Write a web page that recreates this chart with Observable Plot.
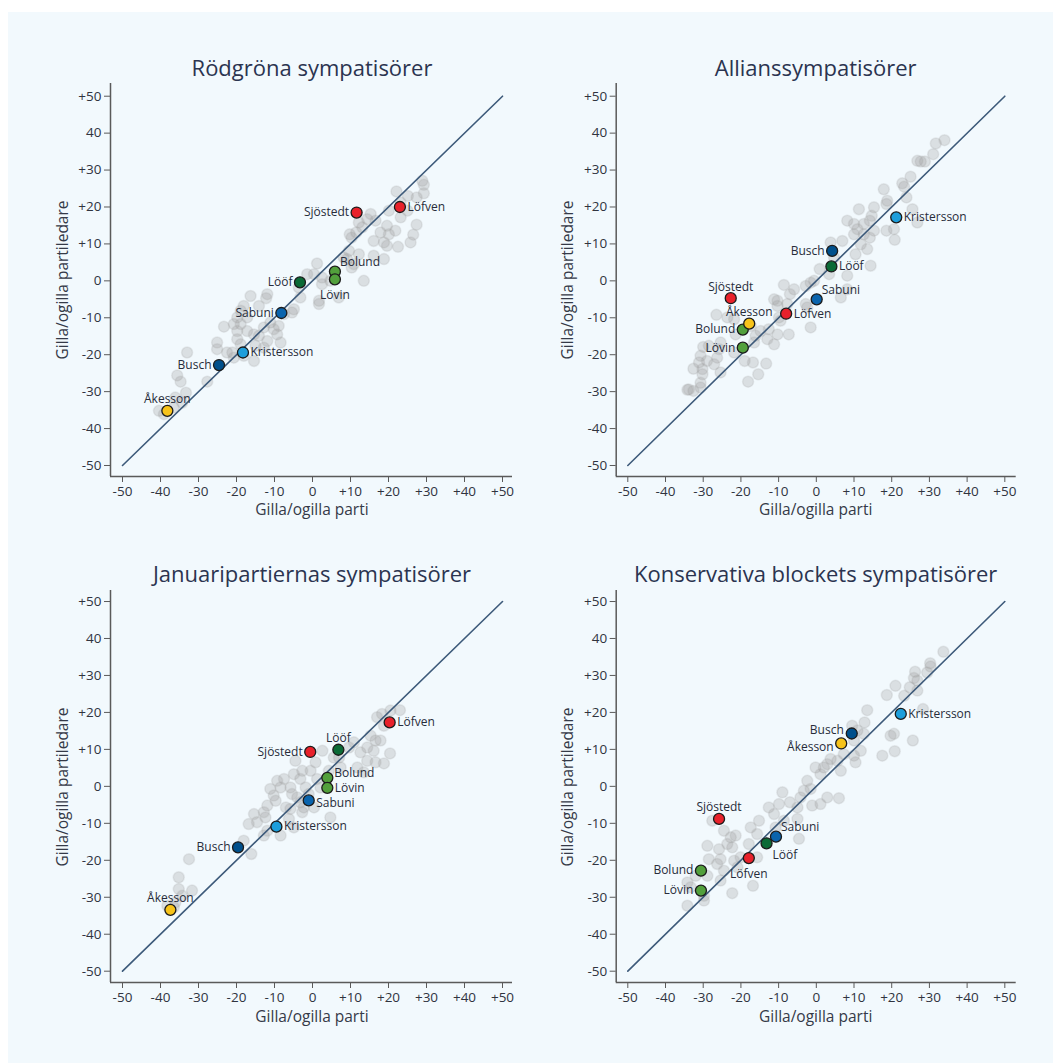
<!DOCTYPE html>
<html><head><meta charset="utf-8">
<script src="https://cdn.jsdelivr.net/npm/d3@7"></script>
<script src="https://cdn.jsdelivr.net/npm/@observablehq/plot@0.6"></script>
<style>
body{margin:0;background:#fff;font-family:"Open Sans",sans-serif;}
#page{position:relative;width:1053px;height:1063px;overflow:hidden;}
#bg{position:absolute;left:8px;top:12px;right:0;bottom:0;background:#f2f9fd;}
.title{position:absolute;font-size:22px;line-height:26px;color:#2b3450;white-space:nowrap;transform:translateX(-50%);}
.xlab{position:absolute;font-size:15.5px;line-height:18px;color:#353a48;white-space:nowrap;transform:translateX(-50%);}
.ylab{position:absolute;font-size:15.5px;line-height:18px;color:#353a48;white-space:nowrap;transform:translate(-50%,-50%) rotate(-90deg);}
.panel{position:absolute;}
</style></head><body><div id="page"><div id="bg"></div></div>
<script>
// ---------- DATA ----------
const panelTitles = ["Rödgröna sympatisörer", "Allianssympatisörer", "Januaripartiernas sympatisörer", "Konservativa blockets sympatisörer"];
const xAxisTitle = "Gilla/ogilla parti";
const yAxisTitle = "Gilla/ogilla partiledare";
const tickValues = [-50, -40, -30, -20, -10, 0, 10, 20, 30, 40, 50];
const xTickLabels = ["-50", "-40", "-30", "-20", "-10", "0", "+10", "+20", "+30", "+40", "+50"];
const yTickLabels = ["-50", "-40", "-30", "-20", "-10", "0", "+10", "+20", "+30", "40", "+50"];
const diagEnds = [-50, 50];

const leaders = ["Löfven", "Sjöstedt", "Bolund", "Lövin", "Lööf", "Sabuni", "Kristersson", "Busch", "Åkesson"];
const leaderColors = ["#e8212b", "#e8212b", "#52a03c", "#52a03c", "#0b6a36", "#0a64ad", "#1d9edb", "#00508c", "#f7c31a"];

// party rating (x) and leader rating (y) per panel, same order as leaders
const rgParty  = [23.0, 11.6, 5.9, 5.9, -3.3, -8.2, -18.3, -24.6, -38.2];
const rgLeader = [20.0, 18.5, 2.5, 0.4, -0.4, -8.7, -19.4, -22.8, -35.2];
const alParty  = [-8.0, -22.7, -19.5, -19.5, 4.0, 0.1, 21.2, 4.2, -17.8];
const alLeader = [-8.9, -4.7, -13.2, -18.1, 3.9, -5.0, 17.2, 8.1, -11.6];
const jaParty  = [20.3, -0.6, 3.9, 3.9, 6.8, -1.0, -9.5, -19.6, -37.4];
const jaLeader = [17.3, 9.3, 2.3, -0.4, 9.9, -3.8, -10.9, -16.5, -33.4];
const koParty  = [-17.9, -25.8, -30.6, -30.6, -13.2, -10.7, 22.4, 9.4, 6.6];
const koLeader = [-19.4, -8.8, -22.8, -28.2, -15.4, -13.6, 19.6, 14.3, 11.6];

// label placement (r right, l left, t above, b below, tr above right, br below right, ru/rd right up/down, lu/ld left up/down)
const rgPlace = ["r", "l", "tr", "b", "l", "l", "r", "l", "t"];
const alPlace = ["r", "t", "l", "l", "r", "tr", "r", "l", "t"];
const jaPlace = ["r", "l", "ru", "r", "t", "rd", "r", "l", "t"];
const koPlace = ["b", "t", "l", "l", "br", "tr", "r", "lu", "ld"];

// background points (other groups), [party, leader]
const rgOther = [[28.9,27.1],[29.3,26.0],[29.3,23.7],[27.4,22.6],[25.1,23.0],[22.1,24.2],[23.2,21.2],[25.0,19.0],[20.1,19.0],[23.2,17.2],[27.4,15.2],[19.6,14.9],[21.8,13.6],[17.9,13.1],[20.1,12.6],[26.5,12.5],[16.1,10.8],[18.8,10.4],[25.8,10.4],[19.6,9.5],[22.5,9.2],[15.3,18.1],[14.4,16.7],[12.2,15.8],[13.1,14.5],[9.8,12.6],[10.3,11.7],[11.5,13.1],[16.6,16.3],[9.6,8.1],[12.2,7.2],[9.1,5.9],[10.9,4.5],[10.3,3.6],[18.8,5.9],[16.1,6.8],[13.5,0.0],[8.2,6.3],[1.2,4.7],[-1.4,1.8],[0.4,1.8],[2.5,0.9],[2.5,-0.9],[4.7,0.0],[-3.6,-1.8],[-3.2,-4.5],[1.7,-5.4],[1.7,-6.3],[6.9,-4.5],[-4.9,-7.7],[-7.5,-9.0],[-5.4,-8.6],[-16.3,-4.1],[-11.9,-3.6],[-12.2,-4.7],[-14.1,-6.8],[-18.1,-6.8],[-18.9,-8.1],[-19.8,-9.9],[-17.2,-9.9],[-23.3,-12.4],[-20.7,-11.7],[-18.9,-11.7],[-19.8,-13.6],[-17.2,-13.6],[-15.4,-14.5],[-12.8,-12.6],[-11.1,-11.3],[-10.2,-13.1],[-8.9,-12.2],[-9.3,-14.5],[-11.9,-16.3],[-14.1,-14.9],[-15.0,-17.6],[-19.8,-15.8],[-18.9,-17.2],[-25.1,-16.7],[-25.1,-18.5],[-21.1,-19.4],[-22.5,-19.4],[-20.7,-20.8],[-18.1,-20.3],[-15.4,-21.7],[-33.0,-19.4],[-27.7,-27.3],[-35.6,-25.6],[-34.7,-27.3],[-33.3,-30.3],[-36.1,-31.6],[-40.4,-35.2],[-39.1,-36.1],[-36.5,-34.3],[-34.3,-33.0],[-8.4,-16.7],[-12.8,-18.1]];
const alOther = [[34.0,38.1],[31.7,37.2],[31.0,34.3],[26.8,32.5],[28.8,32.3],[27.7,32.3],[25.0,28.2],[22.8,26.4],[23.3,25.5],[17.9,24.8],[23.9,22.6],[18.8,21.7],[18.6,20.8],[15.3,19.9],[11.3,19.4],[25.5,19.4],[26.8,15.8],[14.7,17.6],[14.2,16.3],[8.2,16.3],[10.0,15.4],[12.6,15.4],[10.9,14.0],[18.6,13.6],[20.6,14.0],[15.3,13.6],[12.6,12.6],[10.0,12.6],[14.2,11.7],[20.8,11.1],[6.9,10.8],[11.8,9.9],[13.5,8.6],[3.8,10.4],[10.4,7.2],[14.4,4.1],[4.7,6.3],[0.9,3.2],[3.4,1.8],[8.2,1.4],[-1.5,-0.5],[-2.8,-1.4],[-0.6,0.0],[-8.6,-1.1],[-5.9,-2.3],[-7.0,-3.6],[-2.8,-6.3],[-2.4,-7.2],[6.5,-4.5],[8.2,-2.3],[-10.3,-5.4],[-11.2,-5.0],[-7.7,-6.3],[-10.3,-6.8],[-9.9,-9.9],[-9.5,-10.8],[-1.5,-12.6],[-7.3,-14.5],[-10.3,-14.5],[-12.6,-13.1],[-13.0,-15.8],[-11.2,-17.2],[-14.8,-13.6],[-16.1,-14.9],[-21.8,-10.4],[-23.6,-9.9],[-26.5,-9.2],[-17.4,-12.2],[-16.5,-16.7],[-21.4,-14.5],[-21.8,-19.4],[-19.0,-21.7],[-16.8,-22.1],[-13.3,-22.4],[-15.4,-25.3],[-18.1,-27.3],[-25.4,-16.7],[-25.8,-18.5],[-26.3,-20.8],[-28.5,-17.6],[-30.0,-17.9],[-30.7,-20.3],[-31.1,-22.1],[-29.0,-21.7],[-27.1,-22.6],[-32.6,-23.8],[-30.2,-23.9],[-30.2,-25.3],[-30.7,-27.6],[-30.7,-28.9],[-34.2,-29.5],[-32.6,-29.8],[-33.8,-29.4],[-25.4,-24.8]];
const jaOther = [[23.0,20.6],[20.5,20.5],[18.3,19.6],[17.0,18.7],[18.8,16.4],[15.3,13.7],[16.6,12.4],[17.9,12.4],[14.4,10.5],[16.1,9.6],[20.4,8.9],[12.6,9.2],[10.9,11.9],[9.6,10.5],[14.4,6.9],[16.6,6.5],[18.8,6.2],[11.8,5.1],[13.5,3.8],[7.4,5.1],[5.6,7.8],[2.6,9.6],[0.8,6.5],[-0.5,4.2],[-2.7,4.2],[-4.5,6.9],[-4.9,3.3],[-3.2,2.0],[-5.8,-0.3],[-5.4,-2.1],[-4.0,-3.0],[-3.2,-4.3],[-2.3,-5.7],[-2.7,-7.0],[0.4,-5.7],[4.7,-8.4],[2.1,-0.3],[1.2,2.0],[-7.5,2.0],[-9.3,1.5],[-11.1,-0.7],[-8.4,-0.3],[-10.2,-2.5],[-9.7,-3.9],[-11.9,-5.2],[-12.8,-7.0],[-12.4,-8.4],[-15.4,-7.5],[-14.6,-9.7],[-16.8,-10.2],[-11.9,-12.0],[-12.8,-13.3],[-8.4,-13.3],[-4.9,-11.1],[-6.2,-8.8],[-7.0,-5.7],[-5.8,-6.1],[-18.1,-14.7],[-16.1,-18.3],[-32.5,-19.7],[-35.2,-24.6],[-35.2,-27.8],[-31.7,-28.2],[-34.3,-29.6],[-36.1,-31.4],[-38.2,-32.3],[-36.5,-32.7],[-1.0,-2.1],[-1.8,-0.3],[4.3,4.2],[7.0,7.8]];
const koOther = [[33.7,36.4],[30.2,33.3],[30.3,32.4],[26.2,31.0],[29.4,30.8],[25.9,29.3],[26.8,28.6],[21.0,27.2],[24.8,26.8],[26.8,25.9],[18.7,24.7],[23.3,24.5],[13.5,20.6],[28.3,20.9],[12.8,17.3],[9.5,16.4],[10.9,15.1],[19.7,13.7],[20.6,14.2],[25.6,12.4],[20.8,9.5],[17.5,8.3],[12.6,14.2],[10.0,12.4],[11.8,9.6],[10.0,8.3],[10.4,6.5],[7.3,8.7],[5.6,6.9],[3.8,7.4],[2.9,6.0],[6.5,4.2],[2.0,5.1],[1.1,3.3],[-0.2,5.1],[-2.4,1.5],[-1.5,-0.7],[-3.3,-1.2],[-4.2,-3.0],[-9.0,-1.6],[-7.0,-4.3],[-9.9,-4.8],[-5.0,-5.7],[1.1,-4.8],[6.0,-3.2],[2.9,-3.0],[-1.1,-5.2],[-5.0,-8.8],[-4.6,-14.2],[-8.6,-9.3],[-10.8,-11.1],[-15.2,-9.3],[-17.4,-11.1],[-15.7,-12.9],[-17.9,-15.6],[-15.7,-19.2],[-20.1,-19.2],[-21.4,-13.3],[-22.7,-13.8],[-23.6,-15.6],[-22.3,-16.5],[-24.5,-12.0],[-25.8,-17.0],[-28.9,-16.1],[-25.4,-19.7],[-28.5,-19.7],[-26.3,-21.0],[-24.5,-22.8],[-21.8,-20.1],[-20.9,-21.9],[-28.9,-24.2],[-25.4,-25.5],[-32.0,-24.2],[-34.2,-26.0],[-33.3,-27.3],[-29.8,-29.6],[-29.8,-30.9],[-34.2,-32.3],[-22.3,-28.9],[-16.8,-26.9],[-27.6,-9.3],[-11.2,-7.5],[-12.6,-5.7]];

// ---------- DRAW ----------
const FONT = '"Open Sans", sans-serif';
const page = document.getElementById("page");
const xTickMap = new Map(tickValues.map((v, i) => [v, xTickLabels[i]]));
const yTickMap = new Map(tickValues.map((v, i) => [v, yTickLabels[i]]));

const panels = [
  {title: panelTitles[0], party: rgParty, leader: rgLeader, place: rgPlace, other: rgOther,
   left: 8, top: 78, width: 517, height: 450, mL: 102, mR: 13, mT: 5, mB: 52,
   xDom: [-53.16, 52.63], yDom: [-52.98, 53.44], cx: 312, titleY: 54, xLabY: 500, yLabX: 62, yLabY: 280},
  {title: panelTitles[1], party: alParty, leader: alLeader, place: alPlace, other: alOther,
   left: 525, top: 78, width: 528, height: 450, mL: 90.7, mR: 37.3, mT: 5, mB: 52,
   xDom: [-53.08, 53.02], yDom: [-52.98, 53.44], cx: 815.7, titleY: 54, xLabY: 500, yLabX: 566.7, yLabY: 280},
  {title: panelTitles[2], party: jaParty, leader: jaLeader, place: jaPlace, other: jaOther,
   left: 8, top: 585, width: 517, height: 450, mL: 102, mR: 13, mT: 5, mB: 53,
   xDom: [-53.16, 52.63], yDom: [-53.06, 52.98], cx: 312, titleY: 560, xLabY: 1007, yLabX: 62, yLabY: 786.7},
  {title: panelTitles[3], party: koParty, leader: koLeader, place: koPlace, other: koOther,
   left: 525, top: 585, width: 528, height: 450, mL: 90.7, mR: 37.3, mT: 5, mB: 53,
   xDom: [-53.08, 53.02], yDom: [-53.06, 52.98], cx: 815.7, titleY: 560, xLabY: 1007, yLabX: 566.7, yLabY: 786.7}
];

const placeOpts = {
  r:  {textAnchor: "start", dx: 7.5, dy: 0},
  ru: {textAnchor: "start", dx: 7, dy: -5},
  rd: {textAnchor: "start", dx: 7.5, dy: 2.5},
  l:  {textAnchor: "end", dx: -7.5, dy: 0},
  lu: {textAnchor: "end", dx: -8, dy: -3.5},
  ld: {textAnchor: "end", dx: -7.5, dy: 3.5},
  t:  {textAnchor: "middle", dx: 0, dy: -11.5},
  b:  {textAnchor: "middle", dx: 0, dy: 16},
  tr: {textAnchor: "start", dx: 5, dy: -9},
  br: {textAnchor: "start", dx: 6, dy: 12}
};

for (const p of panels) {
  const pts = leaders.map((name, i) => ({name, x: p.party[i], y: p.leader[i], color: leaderColors[i], place: p.place[i]}));
  const bg = p.other.map(([x, y]) => ({x, y}));
  const diag = diagEnds.map(v => ({x: v, y: v}));
  const labelMarks = Object.entries(placeOpts).map(([key, o]) =>
    Plot.text(pts.filter(d => d.place === key), {x: "x", y: "y", text: "name", textAnchor: o.textAnchor, dx: o.dx, dy: o.dy, fill: "#272c3a", fontSize: 12}));
  const chart = Plot.plot({
    width: p.width, height: p.height,
    marginLeft: p.mL, marginRight: p.mR, marginTop: p.mT, marginBottom: p.mB,
    style: {background: "transparent", fontFamily: FONT, fontSize: "13px", color: "#30343f", overflow: "visible"},
    x: {domain: p.xDom}, y: {domain: p.yDom},
    color: {type: "identity"},
    marks: [
      Plot.axisX(tickValues, {tickFormat: d => xTickMap.get(d), tickSize: 6, tickPadding: 4, stroke: "#5a5a5a", label: null, fontSize: 13.5}),
      Plot.axisY(tickValues, {tickFormat: d => yTickMap.get(d), tickSize: 6, tickPadding: 3, stroke: "#5a5a5a", label: null, fontSize: 13.5}),
      Plot.ruleX([p.xDom[0]], {stroke: "#5a5a5a", strokeWidth: 1.5}),
      Plot.ruleY([p.yDom[0]], {stroke: "#5a5a5a", strokeWidth: 1.5}),
      Plot.dot(bg, {x: "x", y: "y", r: 5.5, fill: "#9c9c9c", fillOpacity: 0.27, stroke: "#9c9c9c", strokeOpacity: 0.18}),
      Plot.line(diag, {x: "x", y: "y", stroke: "#3d5a7a", strokeWidth: 1.6}),
      Plot.dot(pts, {x: "x", y: "y", r: 5.5, fill: d => d.color, stroke: "#1b1b1b", strokeWidth: 1.3}),
      ...labelMarks
    ]
  });
  const wrap = document.createElement("div");
  wrap.className = "panel";
  wrap.style.left = p.left + "px"; wrap.style.top = p.top + "px";
  wrap.appendChild(chart);
  page.appendChild(wrap);

  const t = document.createElement("div");
  t.className = "title"; t.textContent = p.title;
  t.style.left = p.cx + "px"; t.style.top = p.titleY + "px";
  page.appendChild(t);

  const xl = document.createElement("div");
  xl.className = "xlab"; xl.textContent = xAxisTitle;
  xl.style.left = p.cx + "px"; xl.style.top = p.xLabY + "px";
  page.appendChild(xl);

  const yl = document.createElement("div");
  yl.className = "ylab"; yl.textContent = yAxisTitle;
  yl.style.left = p.yLabX + "px"; yl.style.top = p.yLabY + "px";
  page.appendChild(yl);
}
</script></body></html>
